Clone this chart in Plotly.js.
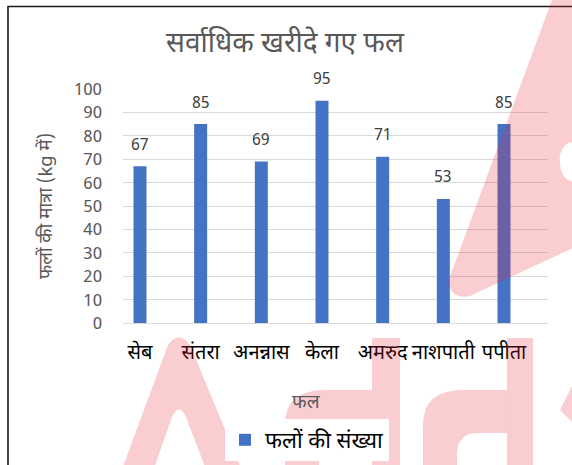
<!DOCTYPE html>
<html>
<head>
<meta charset="utf-8">
<script src="https://cdn.plot.ly/plotly-3.0.1.min.js"></script>
<style>
  html, body { margin: 0; padding: 0; background: #ffffff; }
  #chart { width: 572px; height: 465px; }
</style>
</head>
<body>
<div id="chart"></div>
<script>
// ---- Data ----
var categories = ["सेब", "संतरा", "अनन्नास", "केला", "अमरुद", "नाशपाती", "पपीता"];
var values = [67, 85, 69, 95, 71, 53, 85];
var seriesName = "फलों की संख्या";
var chartTitle = "सर्वाधिक खरीदे गए फल";
var xTitle = "फल";
var yTitle = "फलों की मात्रा (kg में)";
var yTicks = [0, 10, 20, 30, 40, 50, 60, 70, 80, 90, 100];

// ---- Layout geometry ----
var W = 572, H = 465;
var M = { l: 123, r: 24, t: 89, b: 142 };
var PW = W - M.l - M.r, PH = H - M.t - M.b;
function px(x) { return ((x - M.l) / PW).toFixed(4); }
function py(y) { return ((H - M.b - y) / PH).toFixed(4); }
// convert a pixel-space path (M/L/Q/Z) into paper coordinates
function pathPx(str) {
  return str.replace(/(-?\d+(\.\d+)?),(-?\d+(\.\d+)?)/g, function (m, a, b1, c) {
    return px(parseFloat(a)) + "," + py(parseFloat(c));
  });
}

var FONT = "Noto Sans Devanagari, Noto Sans, Lato, sans-serif";
var wm = "rgba(235,40,55,0.23)";

// background watermark (decoration, not data)
var watermarkPaths = [
  "M552,0 L590,0 L590,140 L568,143 Q558,150 560,163 Q561,180 574,182 L590,182 L590,240 L470,296 Q452,300 448,282 Z",
  "M118,480 L168,345 Q179,330 190,345 L246,480 Z M210,480 L186,417 Q179,402 172,417 L150,480 Z",
  "M372,338 L400,338 L400,480 L372,480 Z",
  "M285,480 L285,425 Q285,390 325,390 L372,390 L372,480 Z M372,480 L319,480 L319,455 Q319,433 340,433 L372,433 Z",
  "M507,338 L533,338 L533,480 L507,480 Z",
  "M423,480 L423,425 Q423,390 463,390 L507,390 L507,480 Z M507,480 L457,480 L457,455 Q457,433 478,433 L507,433 Z",
  "M560,410 L580,370 L580,430 Z"
];

var shapes = [];
// chart frame
shapes.push({ type: "path", xref: "paper", yref: "paper", layer: "above",
  path: pathPx("M8,480 L8,6.5 L590,6.5"), line: { color: "#1a1a1a", width: 1.6 } });
watermarkPaths.forEach(function (p) {
  shapes.push({ type: "path", xref: "paper", yref: "paper", layer: "above",
    path: pathPx(p), fillcolor: wm, line: { width: 0 } });
});

var annotations = categories.map(function (c, i) {
  return { x: c, y: values[i], xref: "x", yref: "y", text: String(values[i]),
    showarrow: false, yshift: 20, font: { family: FONT, size: 16, color: "#404040" } };
});
// x-axis title (placed left of plot centre, as in the reference)
annotations.push({ text: xTitle, xref: "paper", yref: "paper",
  x: parseFloat(px(307)), y: parseFloat(py(403)), xanchor: "center", yanchor: "middle",
  showarrow: false, font: { family: FONT, size: 19, color: "#595959" } });

var trace = {
  type: "bar",
  x: categories,
  y: values,
  name: seriesName,
  marker: { color: "#4472C4" },
  hoverinfo: "x+y"
};

var layout = {
  width: W, height: H,
  margin: M,
  paper_bgcolor: "#ffffff",
  plot_bgcolor: "#ffffff",
  font: { family: FONT, color: "#595959" },
  title: { text: chartTitle, x: 285 / W, xref: "container", xanchor: "center",
    y: 1 - 42 / H, yref: "container", yanchor: "middle",
    font: { family: FONT, size: 28, color: "#595959" } },
  bargap: 0.786,
  showlegend: true,
  legend: { orientation: "h", x: 307 / W, xref: "container", xanchor: "center",
    y: 1 - 440 / H, yref: "container", yanchor: "middle",
    font: { family: FONT, size: 22, color: "#000000" } },
  xaxis: {
    type: "category",
    range: [-0.28, 6.725],
    automargin: false,
    tickfont: { family: FONT, size: 20, color: "#000000" },
    ticks: "",
    ticklabelstandoff: 11,
    showgrid: false,
    showline: true, linecolor: "#d9d9d9", linewidth: 1,
    fixedrange: true
  },
  yaxis: {
    range: [0, 100],
    automargin: false,
    tickvals: yTicks,
    ticktext: yTicks.map(String),
    tickfont: { family: FONT, size: 17, color: "#595959" },
    ticks: "",
    ticklabelstandoff: 20,
    showgrid: true, gridcolor: "#d9d9d9", gridwidth: 1,
    zeroline: false,
    showline: false,
    title: { text: yTitle, standoff: 16, font: { family: FONT, size: 18.5, color: "#595959" } },
    fixedrange: true
  },
  shapes: shapes,
  annotations: annotations
};

Plotly.newPlot("chart", [trace], layout, { displayModeBar: false, staticPlot: true });
</script>
</body>
</html>
